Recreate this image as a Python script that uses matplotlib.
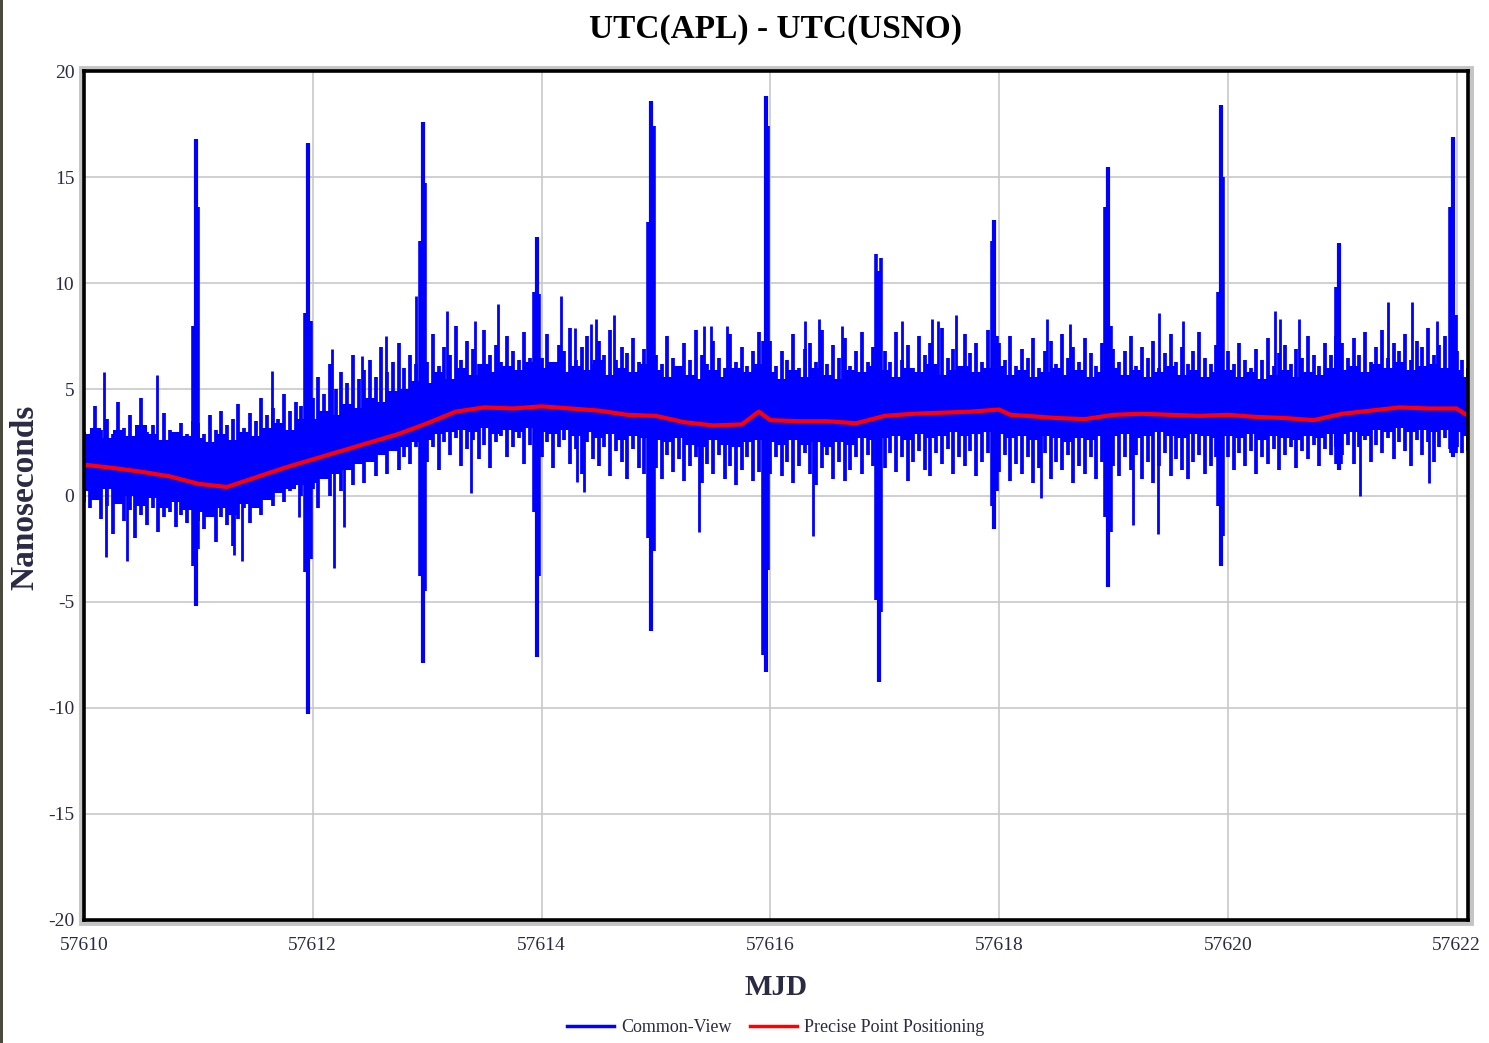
import numpy as np
import matplotlib
matplotlib.use("Agg")
import matplotlib.pyplot as plt
from matplotlib.patches import Rectangle
from matplotlib.lines import Line2D

# ---------------- data ----------------
# Precise Point Positioning (red)
ppp_mjd = [57610.00, 57610.25, 57610.50, 57610.75, 57611.00, 57611.25, 57611.50, 57611.75,
           57612.00, 57612.25, 57612.50, 57612.75, 57613.00, 57613.25, 57613.50, 57613.75,
           57614.00, 57614.25, 57614.50, 57614.75, 57615.00, 57615.25, 57615.50, 57615.75,
           57615.90, 57616.00, 57616.25, 57616.50, 57616.75, 57617.00, 57617.25, 57617.50,
           57617.75, 57618.00, 57618.10, 57618.25, 57618.50, 57618.75, 57619.00, 57619.25,
           57619.50, 57619.75, 57620.00, 57620.25, 57620.50, 57620.75, 57621.00, 57621.25,
           57621.50, 57621.75, 57622.00, 57622.10]
ppp_ns = [1.45, 1.30, 1.12, 0.90, 0.55, 0.40, 0.85, 1.30,
          1.70, 2.10, 2.50, 2.90, 3.40, 3.95, 4.15, 4.10,
          4.20, 4.10, 4.00, 3.80, 3.75, 3.45, 3.30, 3.35,
          3.95, 3.55, 3.50, 3.50, 3.40, 3.75, 3.85, 3.90,
          3.95, 4.05, 3.80, 3.75, 3.65, 3.60, 3.80, 3.85,
          3.80, 3.75, 3.80, 3.70, 3.65, 3.55, 3.85, 4.00,
          4.15, 4.10, 4.10, 3.75]

# Common-View (blue): solid band edges, every 0.1 day from MJD 57610.0
band_step = 0.1
band_hi = [2.9, 3.2, 2.7, 3.1, 2.8, 3.3, 2.9, 2.6, 3.0, 2.8,
           2.7, 2.5, 2.9, 2.6, 3.0, 2.8, 3.2, 3.4, 3.1, 3.6,
           3.6, 4.0, 3.8, 4.3, 4.1, 4.6, 4.4, 4.9, 5.0, 5.4,
           5.3, 5.8, 5.5, 6.0, 5.7, 6.2, 5.8, 6.1, 5.9, 6.3,
           6.0, 6.3, 5.8, 6.1, 5.9, 6.4, 5.7, 6.0, 5.8, 6.2,
           5.9, 5.6, 6.1, 5.7, 5.5, 5.9, 5.6, 6.0, 5.8, 6.2,
           5.8, 5.5, 5.9, 5.6, 6.0, 5.7, 5.5, 5.9, 5.8, 6.1,
           5.9, 5.6, 6.0, 5.8, 6.2, 5.7, 5.9, 6.1, 5.8, 6.0,
           6.1, 5.7, 5.9, 5.6, 5.8, 6.0, 5.7, 5.9, 5.6, 5.8,
           6.0, 5.7, 5.9, 5.6, 5.8, 6.1, 5.7, 5.9, 5.6, 5.8,
           5.9, 5.6, 5.8, 5.5, 5.7, 5.9, 5.6, 5.8, 5.7, 6.0,
           5.9, 6.1, 5.8, 6.2, 6.0, 6.3, 5.9, 6.1, 6.2, 6.0,
           5.9, 5.6]
band_lo = [0.2, -0.2, 0.3, -0.4, 0.0, -0.5, -0.1, -0.6, -0.3, -0.7,
           -0.8, -1.0, -0.6, -0.9, -0.4, -0.6, -0.2, 0.1, 0.3, 0.5,
           0.6, 0.8, 1.0, 1.2, 1.5, 1.6, 1.9, 2.1, 2.3, 2.5,
           2.6, 2.9, 3.0, 3.1, 3.0, 3.2, 2.9, 3.1, 3.0, 3.2,
           3.0, 2.9, 3.1, 2.8, 3.0, 2.7, 2.9, 2.6, 2.8, 2.7,
           2.6, 2.5, 2.7, 2.4, 2.3, 2.6, 2.4, 2.3, 2.5, 2.6,
           2.5, 2.4, 2.6, 2.4, 2.5, 2.3, 2.5, 2.4, 2.7, 2.6,
           2.7, 2.8, 2.6, 2.9, 2.7, 2.8, 3.0, 2.8, 2.9, 3.0,
           2.9, 2.7, 2.8, 2.6, 2.8, 2.7, 2.5, 2.7, 2.6, 2.8,
           2.8, 2.9, 2.7, 2.8, 3.0, 2.8, 2.7, 2.9, 2.8, 2.7,
           2.8, 2.7, 2.9, 2.6, 2.8, 2.7, 2.6, 2.8, 2.7, 2.9,
           2.9, 3.0, 2.8, 3.1, 3.0, 3.2, 3.0, 3.1, 3.0, 3.1,
           3.0, 2.8]

# Common-View fringe, sampled every 0.05 day from MJD 57610.00
cv_step = 0.05
cv_hi = [3.0, 2.8, 4.2, 3.1, 3.6, 2.9, 4.4, 3.2, 3.8, 2.7, 4.6, 3.0, 3.3, 2.6, 3.9, 3.1, 2.8, 3.4, 2.9, 3.5,
         3.4, 2.9, 3.8, 3.1, 4.0, 3.3, 3.6, 4.3, 3.2, 3.9, 3.5, 4.6, 3.8, 4.1, 3.6, 4.8, 4.0, 4.4, 4.2, 5.0,
         4.6, 5.6, 4.8, 6.2, 5.0, 5.8, 5.3, 6.6, 5.5, 5.9, 6.4, 5.6, 7.0, 5.8, 6.3, 7.2, 6.0, 6.6, 6.2, 7.0,
         6.3, 7.6, 6.1, 7.0, 6.6, 8.0, 6.4, 7.3, 6.9, 6.2, 7.8, 6.6, 7.1, 6.3, 7.5, 6.8, 6.4, 7.7, 6.5, 7.2,
         6.5, 7.6, 6.3, 7.1, 6.8, 7.9, 6.4, 7.0, 7.5, 6.2, 7.3, 6.6, 7.8, 6.4, 7.0, 6.7, 7.4, 6.3, 6.9, 7.2,
         6.6, 6.2, 7.5, 6.5, 6.1, 7.2, 6.4, 7.8, 6.6, 6.2, 7.3, 6.5, 6.0, 7.6, 6.3, 7.0, 6.1, 6.8, 7.7, 6.9,
         7.3, 6.1, 6.8, 6.4, 7.6, 6.0, 6.9, 7.2, 6.3, 7.8, 6.2, 7.1, 6.5, 7.4, 6.1, 6.8, 7.7, 6.3, 7.0, 6.6,
         6.8, 6.3, 7.7, 6.4, 7.1, 6.0, 7.5, 6.6, 7.2, 6.2, 7.9, 6.5, 6.9, 6.1, 7.6, 6.7, 7.2, 6.3, 7.8, 6.8,
         7.2, 6.4, 7.5, 6.1, 6.9, 6.5, 7.4, 6.0, 6.8, 7.3, 6.2, 7.6, 6.5, 7.0, 6.3, 7.4, 6.7, 6.1, 7.2, 6.6,
         6.9, 6.3, 6.8, 7.5, 6.1, 7.0, 6.5, 7.3, 6.0, 6.7, 7.6, 6.3, 7.0, 6.2, 6.8, 7.7, 6.5, 6.2, 7.1, 6.6,
         6.8, 6.2, 7.2, 6.4, 6.0, 6.9, 6.4, 7.4, 6.1, 6.7, 7.1, 6.2, 6.9, 6.5, 7.5, 6.6, 6.1, 7.2, 6.6, 7.5,
         7.2, 6.5, 7.4, 6.6, 7.7, 6.3, 7.0, 7.8, 6.5, 7.2, 6.8, 7.6, 6.4, 7.3, 7.0, 7.9, 6.6, 7.1, 7.5, 6.9,
         6.8, 6.4, 6.0]
cv_lo = [-0.3, -0.6, 0.2, -1.1, -0.5, -1.8, -0.4, -1.2, -0.7, -2.0, -0.9, -1.4, -0.6, -1.7, -1.0, -0.8, -1.5, -0.9, -1.3, -0.7,
         -1.2, -1.6, -0.8, -2.2, -1.0, -1.4, -2.4, -1.1, -0.6, -1.3, -0.2, -0.9, 0.1, -0.5, 0.3, -0.3, 0.2, 0.6, 0.0, 0.4,
         0.3, -0.6, 0.8, 0.0, 1.0, 0.2, 1.3, 0.5, 1.5, 0.6, 1.7, 0.9, 2.0, 1.0, 2.1, 1.2, 1.8, 1.5, 2.3, 1.4,
         1.6, 2.3, 1.2, 2.5, 1.9, 2.7, 1.4, 2.2, 2.6, 1.7, 2.4, 1.3, 2.5, 2.8, 1.8, 2.3, 2.7, 1.5, 2.4, 2.0,
         1.8, 2.5, 1.3, 2.3, 2.6, 1.5, 2.2, 1.0, 2.5, 1.7, 1.4, 2.3, 0.9, 2.1, 1.6, 0.8, 2.2, 1.3, 1.0, 1.7,
         1.3, 0.8, 1.9, 1.1, 1.7, 0.7, 1.4, 1.8, 0.6, 1.5, 1.0, 1.9, 0.8, 1.4, 0.5, 1.2, 1.8, 0.7, 1.1, 1.6,
         1.0, 1.8, 0.9, 1.6, 0.6, 1.4, 2.0, 1.0, 0.5, 1.3, 1.9, 0.8, 1.6, 0.7, 1.2, 1.8, 1.0, 1.9, 1.4, 0.8,
         1.3, 2.0, 1.1, 1.8, 0.7, 1.6, 2.1, 1.2, 0.9, 2.0, 1.5, 2.2, 1.0, 1.8, 1.4, 2.1, 0.9, 1.6, 2.0, 1.3,
         1.1, 1.9, 0.7, 1.5, 1.0, 1.8, 0.6, 1.3, 2.0, 0.8, 1.6, 1.2, 1.9, 0.6, 1.4, 1.0, 1.8, 0.8, 1.6, 1.2,
         1.4, 0.9, 1.8, 1.2, 1.9, 0.8, 1.6, 0.6, 1.4, 2.0, 0.9, 1.7, 1.2, 0.8, 1.6, 1.9, 1.0, 1.4, 1.8, 1.2,
         1.8, 1.2, 2.0, 1.4, 2.1, 1.0, 1.8, 1.5, 2.2, 1.2, 1.9, 2.3, 1.3, 2.1, 1.7, 2.4, 1.4, 2.2, 1.9, 2.3,
         1.9, 2.4, 1.5, 2.3, 2.6, 1.6, 2.4, 2.0, 2.7, 1.7, 2.5, 2.1, 1.4, 2.6, 1.9, 2.5, 1.6, 2.3, 2.7, 2.0,
         2.3, 2.0, 2.1]

# Daily large excursions of the Common-View series
spike_mjd = [57610.975, 57611.960, 57612.960, 57613.960, 57614.960, 57615.960,
             57616.950, 57617.960, 57618.955, 57619.940, 57620.970, 57621.970]
spike_hi = [16.8, 16.6, 17.6, 12.2, 18.6, 18.8, 10.6, 13.0, 15.5, 18.4, 11.9, 16.9]
spike_hi_left = [8.0, 8.6, 12.0, 9.6, 12.9, 7.3, 11.4, 12.0, 13.6, 9.6, 9.8, 13.6]
spike_hi_right = [13.6, 8.2, 14.7, 9.5, 17.4, 17.4, 11.2, 7.5, 8.0, 15.0, 6.5, 8.5]
spike_lo = [-5.2, -10.3, -7.9, -7.6, -6.4, -8.3, -8.8, -1.6, -4.3, -3.3, 1.2, 1.8]
spike_lo_left = [-3.3, -3.6, -3.8, -0.8, -2.0, -7.5, -4.9, -0.5, -1.0, -0.5, 1.5, 2.2]
spike_lo_right = [-2.5, -3.0, -4.5, -3.8, -2.6, -3.5, -5.5, 0.2, -1.7, -1.9, 1.5, 2.0]

# Isolated Common-View outliers
up_mjd = [57610.175, 57610.64, 57611.64, 57612.17, 57612.43, 57612.64, 57612.90, 57613.17,
          57613.42, 57613.62, 57614.17, 57614.29, 57614.43, 57614.48, 57614.63, 57615.42,
          57615.48, 57615.62, 57616.30, 57616.43, 57616.63, 57617.15, 57617.41, 57617.47,
          57617.62, 57618.42, 57618.62, 57619.40, 57619.61, 57620.41, 57620.46, 57620.62,
          57621.40, 57621.61, 57621.83]
up_ns = [5.8, 5.7, 5.85, 6.9, 6.55, 7.5, 9.4, 8.7, 8.2, 9.0, 9.4, 7.9, 8.1, 8.3, 8.5, 8.0,
         8.0, 8.0, 8.2, 8.3, 8.0, 8.2, 8.3, 8.2, 8.5, 8.3, 8.1, 8.6, 8.2, 8.7, 8.3, 8.3,
         9.1, 9.1, 8.2]
dn_mjd = [57610.19, 57610.38, 57611.31, 57611.38, 57611.88, 57612.27, 57612.19, 57613.38,
          57614.37, 57614.31, 57615.38, 57616.37, 57618.37, 57619.17, 57619.39, 57621.16,
          57621.76]
dn_ns = [-2.9, -3.1, -2.8, -3.1, -1.0, -1.5, -3.4, 0.1, 0.15, 0.65, -1.7, -1.9, -0.1,
         -1.4, -1.8, 0.0, 0.6]

x_ticks = [57610, 57612, 57614, 57616, 57618, 57620, 57622]
y_ticks = [-20, -15, -10, -5, 0, 5, 10, 15, 20]

# ---------------- drawing ----------------
BLUE = "#0000FF"
RED = "#FF0000"
TXT = "#2a2a44"
SERIF = ["Liberation Serif", "DejaVu Serif"]

fig = plt.figure(figsize=(14.89, 10.43), dpi=100)
fig.patch.set_facecolor("white")
ax_rect = [84 / 1489, 1 - 920 / 1043, (1468 - 84) / 1489, (920 - 71) / 1043]

# gray halo around the frame (drawn behind the axes)
pad_x, pad_y = 3.0 / 1489, 3.0 / 1043
fig.patches.append(Rectangle((ax_rect[0] - pad_x, ax_rect[1] - pad_y),
                             ax_rect[2] + 2 * pad_x, ax_rect[3] + 2 * pad_y,
                             transform=fig.transFigure, fc="none", ec="#c4c4c4",
                             lw=3.5, zorder=-5))
fig.patches.append(Rectangle((0, 0), 3 / 1489, 1, transform=fig.transFigure,
                             fc="#4a4a3e", ec="none", zorder=-5))

ax = fig.add_axes(ax_rect)
ax.set_zorder(2)

band_mjd = 57610.0 + band_step * np.arange(len(band_hi))
cv_mjd = 57610.0 + cv_step * np.arange(len(cv_hi))

ax.fill_between(band_mjd, band_lo, band_hi, step="mid", color=BLUE, lw=0, zorder=2)
ax.vlines(cv_mjd, cv_lo, cv_hi, color=BLUE, lw=2.7, zorder=2)
ax.vlines(up_mjd, np.interp(up_mjd, ppp_mjd, ppp_ns), up_ns, color=BLUE, lw=2.0, zorder=2)
ax.vlines(dn_mjd, dn_ns, np.interp(dn_mjd, ppp_mjd, ppp_ns), color=BLUE, lw=2.0, zorder=2)

sm = np.array(spike_mjd)
ax.vlines(sm, spike_lo, spike_hi, color=BLUE, lw=3.0, zorder=2)
ax.vlines(sm - 0.025, spike_lo_left, spike_hi_left, color=BLUE, lw=2.6, zorder=2)
ax.vlines(sm + 0.022, spike_lo_right, spike_hi_right, color=BLUE, lw=2.6, zorder=2)

ax.plot(ppp_mjd, ppp_ns, color=RED, lw=3.0, zorder=3)

ax.set_xlim(57610, 57622.1)
ax.set_ylim(-20, 20)
ax.set_xticks(x_ticks)
ax.set_yticks(y_ticks)
ax.set_xticklabels([str(v) for v in x_ticks])
ax.set_yticklabels([str(v) for v in y_ticks])
ax.grid(True, color="#c8c8c8", lw=1.2, zorder=0)
ax.set_axisbelow(True)
ax.tick_params(length=0, labelsize=14, labelcolor=TXT)
ax.tick_params(axis="x", pad=12)
ax.tick_params(axis="y", pad=7)
for lab in ax.get_xticklabels() + ax.get_yticklabels():
    lab.set_family(SERIF)
for sp in ax.spines.values():
    sp.set_color("black")
    sp.set_linewidth(2.6)
    sp.set_zorder(5)

fig.text(0.521, 0.972, "UTC(APL) - UTC(USNO)", ha="center", va="center",
         fontsize=24, fontweight="bold", family=SERIF, color="black")
fig.text(0.521, 0.053, "MJD", ha="center", va="center",
         fontsize=21, fontweight="bold", family=SERIF, color=TXT)
fig.text(0.0168, 0.523, "Nanoseconds", ha="center", va="center", rotation=90,
         fontsize=24, fontweight="bold", family=SERIF, color=TXT)

handles = [Line2D([], [], color=BLUE, lw=2.5), Line2D([], [], color=RED, lw=2.5)]
leg = fig.legend(handles, ["Common-View", "Precise Point Positioning"],
                 loc="center", bbox_to_anchor=(0.521, 0.0144), ncol=2, frameon=False,
                 handlelength=2.6, handletextpad=0.4, columnspacing=1.0,
                 prop={"family": SERIF, "size": 13})
for t in leg.get_texts():
    t.set_color(TXT)

fig.savefig("out.png", dpi=100, facecolor="white")
